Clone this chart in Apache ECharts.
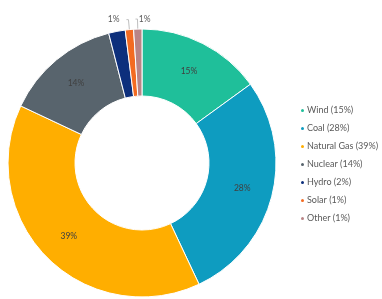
<!DOCTYPE html>
<html>
<head>
<meta charset="utf-8">
<script src="https://cdn.jsdelivr.net/npm/echarts@6/dist/echarts.min.js"></script>
<style>
  html, body { margin: 0; padding: 0; background: #fff; }
  #chart { width: 382px; height: 299px; }
</style>
</head>
<body>
<div id="chart"></div>
<script>
// data
const categories = ['Wind', 'Coal', 'Natural Gas', 'Nuclear', 'Hydro', 'Solar', 'Other'];
const shares = [15, 28, 39, 14, 2, 1, 1];
const colors = ['#1fbf9a', '#0e9cc0', '#ffae00', '#58646d', '#0d2f7c', '#f36b22', '#b98486'];

const chart = echarts.init(document.getElementById('chart'));

const pieData = categories.map((name, i) => {
  const item = { name: name, value: shares[i], itemStyle: { color: colors[i] } };
  if (name === 'Hydro') {
    item.label = { show: false };
    item.labelLine = { show: false };
  } else if (name === 'Solar' || name === 'Other') {
    item.label = { position: 'outside', fontSize: 8.5, color: '#595959' };
    item.labelLine = { show: true, length: 10, length2: 2, lineStyle: { color: '#bfbfbf', width: 1 } };
  }
  return item;
});

const option = {
  backgroundColor: '#fff',
  textStyle: { fontFamily: 'Lato, sans-serif' },
  legend: {
    orient: 'vertical',
    left: 294,
    top: 101,
    icon: 'circle',
    itemWidth: 5,
    itemHeight: 5,
    itemGap: 9,
    data: categories,
    formatter: (name) => name + ' (' + shares[categories.indexOf(name)] + '%)',
    textStyle: { fontSize: 9, color: '#595959', padding: [0, 0, 0, -3] }
  },
  series: [
    {
      type: 'pie',
      center: [142, 163],
      radius: [67, 134],
      startAngle: 90,
      avoidLabelOverlap: false,
      itemStyle: { borderColor: '#fff', borderWidth: 1 },
      label: {
        show: true,
        position: 'inside',
        formatter: '{c}%',
        fontSize: 8.5,
        color: '#404040'
      },
      labelLayout: (params) => {
        if (params.dataIndex === 6) return { dx: 20 };
        if (params.dataIndex === 5) return { dx: -2 };
        return {};
      },
      data: pieData
    }
  ]
};

chart.setOption(option);
</script>
</body>
</html>
